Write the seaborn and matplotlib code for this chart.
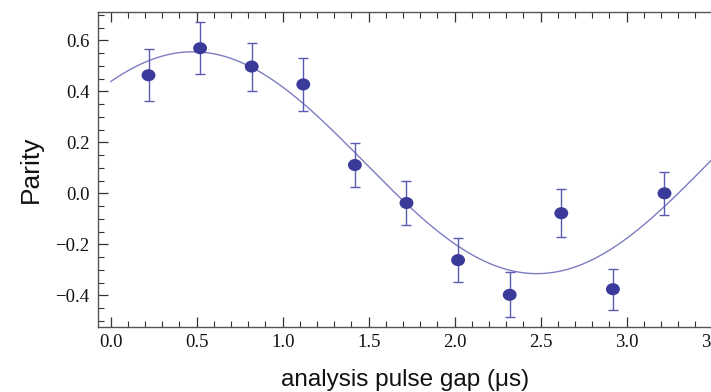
import numpy as np
import pandas as pd
import matplotlib
matplotlib.use("Agg")
import matplotlib.pyplot as plt
from matplotlib.ticker import MultipleLocator
from matplotlib.path import Path
from matplotlib.transforms import Affine2D
import seaborn as sns

# Measured parity vs. analysis pulse gap
pulse_gap_us = [0.22, 0.52, 0.82, 1.12, 1.42, 1.72, 2.02, 2.32, 2.62, 2.92, 3.22]
parity = [0.463, 0.569, 0.497, 0.427, 0.111, -0.038, -0.262, -0.398, -0.078, -0.376, 0.000]
parity_err = [0.101, 0.103, 0.094, 0.105, 0.088, 0.085, 0.085, 0.088, 0.093, 0.081, 0.085]

# Sinusoidal fit parameters: offset + amplitude * cos(2*pi*(t - t0)/period)
fit_offset = 0.120
fit_amplitude = 0.435
fit_period = 4.00
fit_t0 = 0.478

x_ticks = [0.0, 0.5, 1.0, 1.5, 2.0, 2.5, 3.0, 3.5]
y_ticks = [-0.4, -0.2, 0.0, 0.2, 0.4, 0.6]

sns.set_style("white")

data = pd.DataFrame({"gap": pulse_gap_us, "parity": parity, "err": parity_err})
t_fit = np.linspace(0.0, 3.5, 400)
fit = pd.DataFrame({
    "gap": t_fit,
    "parity": fit_offset + fit_amplitude * np.cos(2 * np.pi * (t_fit - fit_t0) / fit_period),
})

fig = plt.figure(figsize=(7.11, 3.92), dpi=100)
ax = fig.add_axes([0.1378, 0.1666, 0.8887, 0.8028])

point_color = "#3a3a9a"
bar_color = "#5a5ab0"
line_color = "#7c7cc2"

# slightly wide oval dot
oval = Path.unit_circle().transformed(Affine2D().scale(1.15, 1.0))

sns.lineplot(data=fit, x="gap", y="parity", ax=ax, color=line_color, lw=1.0, zorder=2)
ax.errorbar(data["gap"], data["parity"], yerr=data["err"], fmt="none",
            ecolor=bar_color, elinewidth=1.0, capsize=3.5, capthick=1.0, zorder=3)
sns.scatterplot(data=data, x="gap", y="parity", ax=ax, color=point_color,
                marker=oval, s=100, edgecolor="none", zorder=4)

ax.set_xlim(-0.0738, 3.6)
ax.set_ylim(-0.523, 0.711)

ax.xaxis.set_major_locator(MultipleLocator(0.5))
ax.xaxis.set_minor_locator(MultipleLocator(0.1))
ax.yaxis.set_major_locator(MultipleLocator(0.2))
ax.yaxis.set_minor_locator(MultipleLocator(0.05))
ax.set_xticks(x_ticks)
ax.set_yticks(y_ticks)
ax.set_xticklabels([f"{v:.1f}" for v in x_ticks])
ax.set_yticklabels([f"{v:.1f}".replace("-", "\u2212") for v in y_ticks])

spine_color = "#555555"
for side in ["left", "bottom", "top"]:
    ax.spines[side].set_visible(True)
    ax.spines[side].set_color(spine_color)
    ax.spines[side].set_linewidth(1.0)
ax.spines["right"].set_visible(False)

ax.tick_params(axis="both", which="major", direction="in", length=7, width=0.9,
               color="#333333", labelsize=13.5, labelcolor="#111111")
ax.tick_params(axis="both", which="minor", direction="in", length=4, width=0.8,
               color="#333333")
ax.tick_params(axis="x", which="both", top=True, bottom=True, pad=5)
ax.tick_params(axis="y", which="both", left=True, right=False, pad=6)
for lab in ax.get_xticklabels() + ax.get_yticklabels():
    lab.set_family("Liberation Serif")

ax.set_xlabel("analysis pulse gap (\u03bcs)", fontsize=17.5, family="Liberation Sans",
              color="#111111")
ax.set_ylabel("Parity", fontsize=19, family="Liberation Sans", color="#111111")
ax.xaxis.set_label_coords((405 - 98) / (0.8887 * 711), -0.135)
ax.yaxis.set_label_coords(-(98 - 43) / (0.8887 * 711), 0.5)

fig.savefig("out.png", dpi=100, facecolor="white")
